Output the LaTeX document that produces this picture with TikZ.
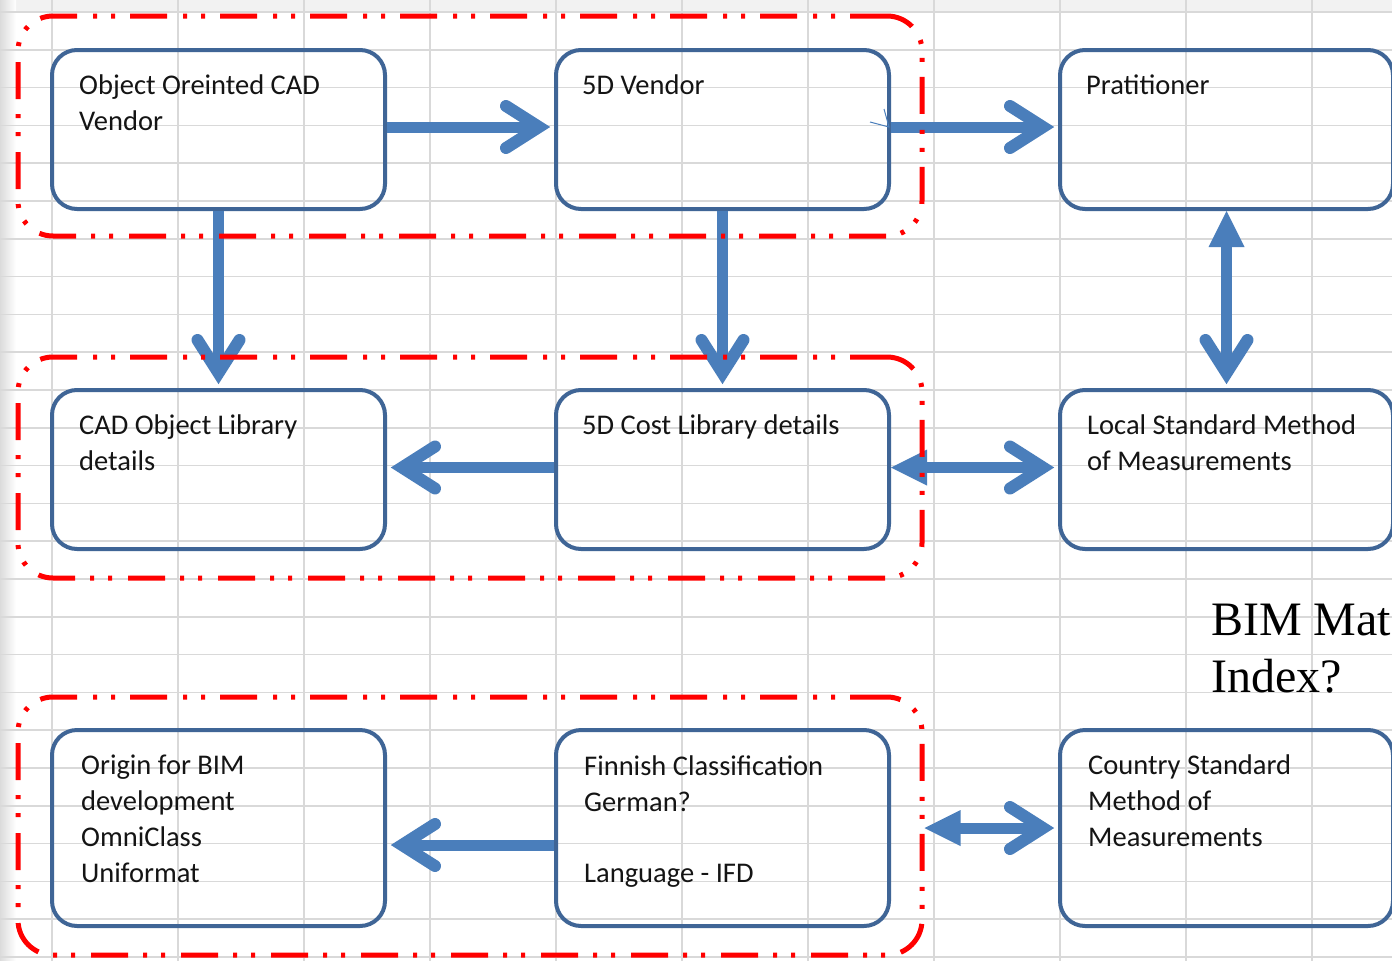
\documentclass[tikz,border=0pt]{standalone}
\usepackage{fontspec}
\setmainfont{Carlito}
\newfontfamily\serifface{Liberation Serif}
\usetikzlibrary{calc}

\definecolor{gridgray}{HTML}{D9D9D9}
\definecolor{boxblue}{HTML}{3F6596}
\definecolor{arrowblue}{HTML}{4A7EBB}
\definecolor{dashred}{HTML}{FF0000}
\definecolor{inkblack}{HTML}{141414}

\pgfdeclarelayer{front}
\pgfsetlayers{main,front}

% open chevron head: tip at #1, pointing along angle #2
\newcommand\chevhead[2]{%
  \draw[barb, shift={(#1)}, rotate=#2] (-48,21) -- (-15,0) -- (-48,-21);}
% solid triangle head: tip at #1, pointing along angle #2
\newcommand\trihead[2]{%
  \fill[arrowblue, shift={(#1)}, rotate=#2] (0,0) -- (-36,18) -- (-36,-18) -- cycle;}

% text nodes are anchored at the baseline of their last line
\tikzset{
  gridline/.style={draw=gridgray, line width=1.6pt},
  box/.style={draw=boxblue, line width=4pt, rounded corners=25pt,
    minimum width=333pt, minimum height=159pt, inner sep=0pt},
  tallbox/.style={box, minimum height=196pt},
  boxtext/.style={anchor=base west, inner sep=0pt, text=inkblack, align=left,
    font=\fontsize{28.5}{36}\selectfont},
  listtext/.style={boxtext, font=\fontsize{28.5}{35.7}\selectfont},
  group/.style={draw=dashred, line width=5pt, rounded corners=35pt,
    dash pattern=on 37pt off 15pt on 4pt off 14pt on 4pt off 16pt,
    inner sep=0pt, minimum width=904pt},
  shaft/.style={draw=arrowblue, line width=11pt},
  barb/.style={draw=arrowblue, line width=12pt, line cap=round, line join=miter},
}

\begin{document}
\begin{tikzpicture}[x=1pt, y=-1pt]
\useasboundingbox (0,0) rectangle (1392,961);
\clip (0,0) rectangle (1392,961);
\fill[white] (0,0) rectangle (1392,961);
\fill[black!5] (0,0) rectangle (1392,11);
\shade[left color=black!14, right color=white] (0,0) rectangle (16,961);

% worksheet cells
\foreach \i in {0,...,10} \draw[gridline] (52+126*\i,0) -- (52+126*\i,961);
\foreach \j in {0,...,25} \draw[gridline] (0,12+37.8*\j) -- (1392,12+37.8*\j);

% boxes
\node[box] (b1) at (218.5,129.5) {};
\node[box] (b2) at (722.5,129.5) {};
\node[box] (b3) at (1226.5,129.5) {};
\node[box] (b4) at (218.5,469.5) {};
\node[box] (b5) at (722.5,469.5) {};
\node[box] (b6) at (1226.5,469.5) {};
\node[tallbox] (b7) at (218.5,828) {};
\node[tallbox] (b8) at (722.5,828) {};
\node[tallbox] (b9) at (1226.5,828) {};

% box texts
\node[boxtext] (t1) at (79,130) {Object Oreinted CAD\\Vendor};
\node[boxtext] (t2) at (582,94) {5D Vendor};
\node[boxtext] (t3) at (1086,94) {Pratitioner};
\node[boxtext] (t4) at (79,470) {CAD Object Library\\details};
\node[boxtext] (t5) at (582,434) {5D Cost Library details};
\node[boxtext] (t6) at (1087,470) {Local Standard Method\\of Measurements};
\node[listtext] (t7) at (81,882) {Origin for BIM\\development\\OmniClass\\Uniformat};
\node[listtext] (t8) at (584,882) {Finnish Classification\\German?\\[35pt]Language - IFD};
\node[listtext] (t9) at (1088,846) {Country Standard\\Method of\\Measurements};

% side note
\node[anchor=base west, inner sep=0pt, align=left, text=black,
  font=\serifface\fontsize{48}{57}\selectfont] (note) at (1211,692) {BIM Mat\\Index?};

% dash-dot groups, drawn above the arrows
\begin{pgfonlayer}{front}
\node[group, minimum height=220pt] (r1) at (470,126) {};
\node[group, minimum height=221pt] (r2) at (470,467.5) {};
\node[group, minimum height=258pt] (r3) at (470,826) {};
\end{pgfonlayer}

% connectors (horizontal ones in the upper rows sit a little above box centre)
\coordinate (a1s) at ($(b1.east)+(0,-2.5)$);
\coordinate (a1e) at ($(b2.west)+(0,-2.5)$);
\draw[shaft, shorten >=15pt] (a1s) -- (a1e);
\chevhead{a1e}{0}

\coordinate (a2s) at ($(b2.east)+(0,-2.5)$);
\coordinate (a2e) at ($(b3.west)+(0,-2.5)$);
\draw[shaft, shorten >=15pt] (a2s) -- (a2e);
\chevhead{a2e}{0}
\draw[arrowblue, line width=1pt] ($(b2.east)+(-21,-7.5)$) -- ($(b2.east)+(-2,-2.5)$)
  -- ($(b2.east)+(-7,-20.5)$);

\draw[shaft, shorten >=15pt] (b1.south) -- (b4.north);
\chevhead{b4.north}{270}

\draw[shaft, shorten >=15pt] (b2.south) -- (b5.north);
\chevhead{b5.north}{270}

\draw[shaft, shorten <=25pt, shorten >=15pt] (b3.south) -- (b6.north);
\trihead{b3.south}{90}
\chevhead{b6.north}{270}

\coordinate (a6s) at ($(b5.west)+(0,-2)$);
\coordinate (a6e) at ($(b4.east)+(0,-2)$);
\draw[shaft, shorten >=15pt] (a6s) -- (a6e);
\chevhead{a6e}{180}

\coordinate (a7s) at ($(b5.east)+(0,-2)$);
\coordinate (a7e) at ($(b6.west)+(0,-2)$);
\draw[shaft, shorten <=25pt, shorten >=15pt] (a7s) -- (a7e);
\trihead{a7s}{180}
\chevhead{a7e}{0}

\coordinate (a8s) at ($(b8.west)+(0,17)$);
\coordinate (a8e) at (b7.east |- a8s);
\draw[shaft, shorten >=15pt] (a8s) -- (a8e);
\chevhead{a8e}{180}

\coordinate (a9s) at (r3.east |- b9.west);
\draw[shaft, shorten <=25pt, shorten >=15pt] (a9s) -- (b9.west);
\trihead{a9s}{180}
\chevhead{b9.west}{0}
\end{tikzpicture}
\end{document}
